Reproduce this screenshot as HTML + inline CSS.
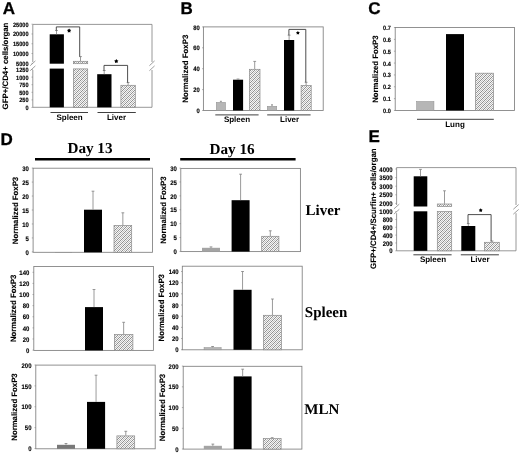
<!DOCTYPE html><html><head><meta charset="utf-8"><style>html,body{margin:0;padding:0;background:#fff;width:520px;height:453px;overflow:hidden}svg{display:block;will-change:transform}</style></head><body>
<svg width="520" height="453" viewBox="0 0 520 453" text-rendering="geometricPrecision">
<defs><pattern id="hatch" width="4" height="4" patternUnits="userSpaceOnUse"><rect width="4" height="4" fill="#f6f6f6"/><rect x="0" y="0" width="1" height="1" fill="#909090"/><rect x="0" y="2" width="1" height="1" fill="#bebebe"/><rect x="1" y="1" width="1" height="1" fill="#bebebe"/><rect x="1" y="3" width="1" height="1" fill="#909090"/><rect x="2" y="0" width="1" height="1" fill="#bebebe"/><rect x="2" y="2" width="1" height="1" fill="#909090"/><rect x="3" y="1" width="1" height="1" fill="#909090"/><rect x="3" y="3" width="1" height="1" fill="#bebebe"/></pattern></defs>
<rect width="520" height="453" fill="#fff"/>
<text transform="translate(8.85,13.6) scale(1,1.0)" font-size="17" font-family="'Liberation Sans', sans-serif" font-weight="bold" text-anchor="middle" stroke="#000" stroke-width="0.3">A</text>
<text transform="translate(186.6,13.6) scale(1,1.0)" font-size="17" font-family="'Liberation Sans', sans-serif" font-weight="bold" text-anchor="middle" stroke="#000" stroke-width="0.3">B</text>
<text transform="translate(374.3,13.6) scale(1,1.0)" font-size="17" font-family="'Liberation Sans', sans-serif" font-weight="bold" text-anchor="middle" stroke="#000" stroke-width="0.3">C</text>
<text transform="translate(6.7,144.8) scale(1,1.0)" font-size="17" font-family="'Liberation Sans', sans-serif" font-weight="bold" text-anchor="middle" stroke="#000" stroke-width="0.3">D</text>
<text transform="translate(374.1,142.4) scale(1,1.0)" font-size="17" font-family="'Liberation Sans', sans-serif" font-weight="bold" text-anchor="middle" stroke="#000" stroke-width="0.3">E</text>
<line x1="32.8" y1="24.4" x2="152" y2="24.4" stroke="#7e7e7e" stroke-width="0.8" />
<line x1="32.8" y1="107.3" x2="152" y2="107.3" stroke="#7e7e7e" stroke-width="0.8" />
<line x1="32.8" y1="24.4" x2="32.8" y2="62" stroke="#7e7e7e" stroke-width="0.8" />
<line x1="32.8" y1="70" x2="32.8" y2="107.3" stroke="#7e7e7e" stroke-width="0.8" />
<line x1="152" y1="24.4" x2="152" y2="62" stroke="#7e7e7e" stroke-width="0.8" />
<line x1="152" y1="70" x2="152" y2="107.3" stroke="#7e7e7e" stroke-width="0.8" />
<line x1="30.2" y1="65.7" x2="35.4" y2="60.9" stroke="#777" stroke-width="0.7" />
<line x1="30.2" y1="70.7" x2="35.4" y2="65.9" stroke="#777" stroke-width="0.7" />
<line x1="149.4" y1="65.7" x2="154.6" y2="60.9" stroke="#777" stroke-width="0.7" />
<line x1="149.4" y1="70.7" x2="154.6" y2="65.9" stroke="#777" stroke-width="0.7" />
<text transform="translate(28.5,24.5) scale(0.1,0.11)" y="20.05" font-size="56" font-family="'Liberation Sans', sans-serif" font-weight="bold" text-anchor="end" stroke="#000" stroke-width="1.3">25000</text>
<line x1="31.5" y1="24.2" x2="32.8" y2="24.2" stroke="#7e7e7e" stroke-width="0.6" />
<text transform="translate(28.5,34.27) scale(0.1,0.11)" y="20.05" font-size="56" font-family="'Liberation Sans', sans-serif" font-weight="bold" text-anchor="end" stroke="#000" stroke-width="1.3">20000</text>
<line x1="31.5" y1="33.97" x2="32.8" y2="33.97" stroke="#7e7e7e" stroke-width="0.6" />
<text transform="translate(28.5,44.05) scale(0.1,0.11)" y="20.05" font-size="56" font-family="'Liberation Sans', sans-serif" font-weight="bold" text-anchor="end" stroke="#000" stroke-width="1.3">15000</text>
<line x1="31.5" y1="43.75" x2="32.8" y2="43.75" stroke="#7e7e7e" stroke-width="0.6" />
<text transform="translate(28.5,53.82) scale(0.1,0.11)" y="20.05" font-size="56" font-family="'Liberation Sans', sans-serif" font-weight="bold" text-anchor="end" stroke="#000" stroke-width="1.3">10000</text>
<line x1="31.5" y1="53.52" x2="32.8" y2="53.52" stroke="#7e7e7e" stroke-width="0.6" />
<text transform="translate(28.5,63.6) scale(0.1,0.11)" y="20.05" font-size="56" font-family="'Liberation Sans', sans-serif" font-weight="bold" text-anchor="end" stroke="#000" stroke-width="1.3">5000</text>
<line x1="31.5" y1="63.3" x2="32.8" y2="63.3" stroke="#7e7e7e" stroke-width="0.6" />
<text transform="translate(28.5,69.8) scale(0.1,0.11)" y="20.05" font-size="56" font-family="'Liberation Sans', sans-serif" font-weight="bold" text-anchor="end" stroke="#000" stroke-width="1.3">1250</text>
<line x1="31.5" y1="69.5" x2="32.8" y2="69.5" stroke="#7e7e7e" stroke-width="0.6" />
<text transform="translate(28.5,77.4) scale(0.1,0.11)" y="20.05" font-size="56" font-family="'Liberation Sans', sans-serif" font-weight="bold" text-anchor="end" stroke="#000" stroke-width="1.3">1000</text>
<line x1="31.5" y1="77.1" x2="32.8" y2="77.1" stroke="#7e7e7e" stroke-width="0.6" />
<text transform="translate(28.5,85) scale(0.1,0.11)" y="20.05" font-size="56" font-family="'Liberation Sans', sans-serif" font-weight="bold" text-anchor="end" stroke="#000" stroke-width="1.3">750</text>
<line x1="31.5" y1="84.7" x2="32.8" y2="84.7" stroke="#7e7e7e" stroke-width="0.6" />
<text transform="translate(28.5,92.6) scale(0.1,0.11)" y="20.05" font-size="56" font-family="'Liberation Sans', sans-serif" font-weight="bold" text-anchor="end" stroke="#000" stroke-width="1.3">500</text>
<line x1="31.5" y1="92.3" x2="32.8" y2="92.3" stroke="#7e7e7e" stroke-width="0.6" />
<text transform="translate(28.5,100.2) scale(0.1,0.11)" y="20.05" font-size="56" font-family="'Liberation Sans', sans-serif" font-weight="bold" text-anchor="end" stroke="#000" stroke-width="1.3">250</text>
<line x1="31.5" y1="99.9" x2="32.8" y2="99.9" stroke="#7e7e7e" stroke-width="0.6" />
<text transform="translate(28.5,107.8) scale(0.1,0.11)" y="20.05" font-size="56" font-family="'Liberation Sans', sans-serif" font-weight="bold" text-anchor="end" stroke="#000" stroke-width="1.3">0</text>
<line x1="31.5" y1="107.5" x2="32.8" y2="107.5" stroke="#7e7e7e" stroke-width="0.6" />
<rect x="49.7" y="34.3" width="14.2" height="29.4" fill="#000" />
<rect x="49.7" y="68.6" width="14.2" height="38.7" fill="#000" />
<rect x="73.4" y="61.3" width="14.3" height="2.4" fill="url(#hatch)" stroke="#8a8a8a" stroke-width="0.7" />
<rect x="73.4" y="68.9" width="14.3" height="38.4" fill="url(#hatch)" stroke="#8a8a8a" stroke-width="0.7" />
<rect x="97.2" y="74.2" width="14.3" height="33.1" fill="#000" />
<rect x="120.9" y="85.3" width="14.4" height="22" fill="url(#hatch)" stroke="#8a8a8a" stroke-width="0.7" />
<line x1="56.5" y1="34.3" x2="56.5" y2="30.5" stroke="#808080" stroke-width="0.8" />
<line x1="55.1" y1="30.5" x2="57.9" y2="30.5" stroke="#808080" stroke-width="0.8" />
<line x1="80.5" y1="61" x2="80.5" y2="56.6" stroke="#808080" stroke-width="0.8" />
<line x1="79.1" y1="56.6" x2="81.9" y2="56.6" stroke="#808080" stroke-width="0.8" />
<line x1="104.2" y1="74.2" x2="104.2" y2="70.5" stroke="#808080" stroke-width="0.8" />
<line x1="102.8" y1="70.5" x2="105.6" y2="70.5" stroke="#808080" stroke-width="0.8" />
<line x1="128.1" y1="85" x2="128.1" y2="82.5" stroke="#808080" stroke-width="0.8" />
<line x1="126.7" y1="82.5" x2="129.5" y2="82.5" stroke="#808080" stroke-width="0.8" />
<line x1="56.3" y1="30.5" x2="56.3" y2="26.9" stroke="#3a3a3a" stroke-width="0.9" />
<line x1="56.3" y1="26.9" x2="79.7" y2="26.9" stroke="#3a3a3a" stroke-width="0.9" />
<line x1="79.7" y1="26.9" x2="79.7" y2="56.6" stroke="#3a3a3a" stroke-width="0.9" />
<line x1="104" y1="70.5" x2="104" y2="65.4" stroke="#3a3a3a" stroke-width="0.9" />
<line x1="104" y1="65.4" x2="127.6" y2="65.4" stroke="#3a3a3a" stroke-width="0.9" />
<line x1="127.6" y1="65.4" x2="127.6" y2="82.6" stroke="#3a3a3a" stroke-width="0.9" />
<polygon points="69.1,28.4 69.85,29.57 71.19,29.92 70.31,30.99 70.39,32.38 69.1,31.88 67.81,32.38 67.89,30.99 67.01,29.92 68.35,29.57" fill="#000"/>
<polygon points="116.3,59.1 117.05,60.27 118.39,60.62 117.51,61.69 117.59,63.08 116.3,62.58 115.01,63.08 115.09,61.69 114.21,60.62 115.55,60.27" fill="#000"/>
<text transform="translate(8.4,66) rotate(-90)" font-size="7.85" font-family="'Liberation Sans', sans-serif" font-weight="bold" text-anchor="middle" stroke="#000" stroke-width="0.12">GFP+/CD4+ cells/organ</text>
<line x1="50.5" y1="112.5" x2="88" y2="112.5" stroke="#404040" stroke-width="1.0" />
<line x1="97.5" y1="112.5" x2="135.8" y2="112.5" stroke="#404040" stroke-width="1.0" />
<text x="69.6" y="119.8" font-size="8.0" font-family="'Liberation Sans', sans-serif" font-weight="bold" text-anchor="middle" >Spleen</text>
<text x="116.5" y="119.8" font-size="8.0" font-family="'Liberation Sans', sans-serif" font-weight="bold" text-anchor="middle" >Liver</text>
<rect x="203.4" y="26.9" width="119.8" height="83.6" fill="none" stroke="#7e7e7e" stroke-width="0.85" />
<text transform="translate(199.8,27.2) scale(0.1,0.11)" y="20.94" font-size="58.5" font-family="'Liberation Sans', sans-serif" font-weight="bold" text-anchor="end" stroke="#000" stroke-width="1.3">80</text>
<line x1="202.1" y1="26.9" x2="203.4" y2="26.9" stroke="#7e7e7e" stroke-width="0.6" />
<text transform="translate(199.8,48.1) scale(0.1,0.11)" y="20.94" font-size="58.5" font-family="'Liberation Sans', sans-serif" font-weight="bold" text-anchor="end" stroke="#000" stroke-width="1.3">60</text>
<line x1="202.1" y1="47.8" x2="203.4" y2="47.8" stroke="#7e7e7e" stroke-width="0.6" />
<text transform="translate(199.8,69) scale(0.1,0.11)" y="20.94" font-size="58.5" font-family="'Liberation Sans', sans-serif" font-weight="bold" text-anchor="end" stroke="#000" stroke-width="1.3">40</text>
<line x1="202.1" y1="68.7" x2="203.4" y2="68.7" stroke="#7e7e7e" stroke-width="0.6" />
<text transform="translate(199.8,89.9) scale(0.1,0.11)" y="20.94" font-size="58.5" font-family="'Liberation Sans', sans-serif" font-weight="bold" text-anchor="end" stroke="#000" stroke-width="1.3">20</text>
<line x1="202.1" y1="89.6" x2="203.4" y2="89.6" stroke="#7e7e7e" stroke-width="0.6" />
<text transform="translate(199.8,110.8) scale(0.1,0.11)" y="20.94" font-size="58.5" font-family="'Liberation Sans', sans-serif" font-weight="bold" text-anchor="end" stroke="#000" stroke-width="1.3">0</text>
<line x1="202.1" y1="110.5" x2="203.4" y2="110.5" stroke="#7e7e7e" stroke-width="0.6" />
<rect x="216.25" y="102.35" width="9.3" height="8.15" fill="#b6b6b6" stroke="#8e8e8e" stroke-width="0.5" />
<line x1="220.9" y1="102.1" x2="220.9" y2="101.3" stroke="#808080" stroke-width="0.8" />
<line x1="219.9" y1="101.3" x2="221.9" y2="101.3" stroke="#808080" stroke-width="0.8" />
<rect x="233" y="79.7" width="10.1" height="30.8" fill="#000" />
<line x1="238" y1="79.7" x2="238" y2="79" stroke="#808080" stroke-width="0.8" />
<line x1="236.6" y1="79" x2="239.4" y2="79" stroke="#808080" stroke-width="0.8" />
<rect x="249.5" y="69.3" width="10.5" height="41.2" fill="url(#hatch)" stroke="#8a8a8a" stroke-width="0.7" />
<line x1="254.7" y1="69" x2="254.7" y2="61.4" stroke="#808080" stroke-width="0.8" />
<line x1="253.3" y1="61.4" x2="256.1" y2="61.4" stroke="#808080" stroke-width="0.8" />
<rect x="267.25" y="106.25" width="9.5" height="4.25" fill="#b6b6b6" stroke="#8e8e8e" stroke-width="0.5" />
<line x1="272" y1="106" x2="272" y2="104.8" stroke="#808080" stroke-width="0.8" />
<line x1="271" y1="104.8" x2="273" y2="104.8" stroke="#808080" stroke-width="0.8" />
<rect x="284" y="40" width="10.2" height="70.5" fill="#000" />
<line x1="289.1" y1="40" x2="289.1" y2="35.2" stroke="#808080" stroke-width="0.8" />
<line x1="287.7" y1="35.2" x2="290.5" y2="35.2" stroke="#808080" stroke-width="0.8" />
<rect x="301.1" y="85.5" width="10.1" height="25" fill="url(#hatch)" stroke="#8a8a8a" stroke-width="0.7" />
<line x1="306.1" y1="85.2" x2="306.1" y2="82.3" stroke="#808080" stroke-width="0.8" />
<line x1="304.7" y1="82.3" x2="307.5" y2="82.3" stroke="#808080" stroke-width="0.8" />
<line x1="288.9" y1="35.2" x2="288.9" y2="29.4" stroke="#3a3a3a" stroke-width="0.9" />
<line x1="288.9" y1="29.4" x2="305.8" y2="29.4" stroke="#3a3a3a" stroke-width="0.9" />
<line x1="305.8" y1="29.4" x2="305.8" y2="82.3" stroke="#3a3a3a" stroke-width="0.9" />
<polygon points="297.9,30.9 298.58,31.96 299.8,32.28 299,33.26 299.08,34.52 297.9,34.06 296.72,34.52 296.8,33.26 296,32.28 297.22,31.96" fill="#000"/>
<text transform="translate(188.3,68.75) rotate(-90)" font-size="7.85" font-family="'Liberation Sans', sans-serif" font-weight="bold" text-anchor="middle" stroke="#000" stroke-width="0.12">Normalized FoxP3</text>
<line x1="215.3" y1="114.9" x2="258.6" y2="114.9" stroke="#404040" stroke-width="1.0" />
<line x1="267.2" y1="114.9" x2="310.6" y2="114.9" stroke="#404040" stroke-width="1.0" />
<text x="237" y="121.8" font-size="8.0" font-family="'Liberation Sans', sans-serif" font-weight="bold" text-anchor="middle" >Spleen</text>
<text x="289.6" y="121.8" font-size="8.0" font-family="'Liberation Sans', sans-serif" font-weight="bold" text-anchor="middle" >Liver</text>
<rect x="395.2" y="27.5" width="119.3" height="83" fill="none" stroke="#7e7e7e" stroke-width="0.85" />
<text transform="translate(390.8,27.8) scale(0.1,0.11)" y="20.05" font-size="56" font-family="'Liberation Sans', sans-serif" font-weight="bold" text-anchor="end" stroke="#000" stroke-width="1.3">0.7</text>
<line x1="393.9" y1="27.5" x2="395.2" y2="27.5" stroke="#7e7e7e" stroke-width="0.6" />
<text transform="translate(390.8,39.66) scale(0.1,0.11)" y="20.05" font-size="56" font-family="'Liberation Sans', sans-serif" font-weight="bold" text-anchor="end" stroke="#000" stroke-width="1.3">0.6</text>
<line x1="393.9" y1="39.36" x2="395.2" y2="39.36" stroke="#7e7e7e" stroke-width="0.6" />
<text transform="translate(390.8,51.51) scale(0.1,0.11)" y="20.05" font-size="56" font-family="'Liberation Sans', sans-serif" font-weight="bold" text-anchor="end" stroke="#000" stroke-width="1.3">0.5</text>
<line x1="393.9" y1="51.21" x2="395.2" y2="51.21" stroke="#7e7e7e" stroke-width="0.6" />
<text transform="translate(390.8,63.37) scale(0.1,0.11)" y="20.05" font-size="56" font-family="'Liberation Sans', sans-serif" font-weight="bold" text-anchor="end" stroke="#000" stroke-width="1.3">0.4</text>
<line x1="393.9" y1="63.07" x2="395.2" y2="63.07" stroke="#7e7e7e" stroke-width="0.6" />
<text transform="translate(390.8,75.23) scale(0.1,0.11)" y="20.05" font-size="56" font-family="'Liberation Sans', sans-serif" font-weight="bold" text-anchor="end" stroke="#000" stroke-width="1.3">0.3</text>
<line x1="393.9" y1="74.93" x2="395.2" y2="74.93" stroke="#7e7e7e" stroke-width="0.6" />
<text transform="translate(390.8,87.09) scale(0.1,0.11)" y="20.05" font-size="56" font-family="'Liberation Sans', sans-serif" font-weight="bold" text-anchor="end" stroke="#000" stroke-width="1.3">0.2</text>
<line x1="393.9" y1="86.79" x2="395.2" y2="86.79" stroke="#7e7e7e" stroke-width="0.6" />
<text transform="translate(390.8,98.94) scale(0.1,0.11)" y="20.05" font-size="56" font-family="'Liberation Sans', sans-serif" font-weight="bold" text-anchor="end" stroke="#000" stroke-width="1.3">0.1</text>
<line x1="393.9" y1="98.64" x2="395.2" y2="98.64" stroke="#7e7e7e" stroke-width="0.6" />
<text transform="translate(390.8,110.8) scale(0.1,0.11)" y="20.05" font-size="56" font-family="'Liberation Sans', sans-serif" font-weight="bold" text-anchor="end" stroke="#000" stroke-width="1.3">0.0</text>
<line x1="393.9" y1="110.5" x2="395.2" y2="110.5" stroke="#7e7e7e" stroke-width="0.6" />
<rect x="416.55" y="101.45" width="17.4" height="9.05" fill="#b6b6b6" stroke="#8e8e8e" stroke-width="0.5" />
<rect x="446" y="34.1" width="18" height="76.4" fill="#000" />
<rect x="475.5" y="73.2" width="18" height="37.3" fill="url(#hatch)" stroke="#8a8a8a" stroke-width="0.7" />
<text transform="translate(378.2,69.1) rotate(-90)" font-size="7.78" font-family="'Liberation Sans', sans-serif" font-weight="bold" text-anchor="middle" stroke="#000" stroke-width="0.12">Normalized FoxP3</text>
<line x1="417" y1="119.3" x2="493.8" y2="119.3" stroke="#404040" stroke-width="1.0" />
<text x="455" y="126.8" font-size="8.0" font-family="'Liberation Sans', sans-serif" font-weight="bold" text-anchor="middle" >Lung</text>
<text x="90" y="153.1" font-size="15.2" font-family="'Liberation Serif', serif" font-weight="bold" text-anchor="middle" >Day 13</text>
<text x="232.1" y="153.5" font-size="15.2" font-family="'Liberation Serif', serif" font-weight="bold" text-anchor="middle" >Day 16</text>
<line x1="35" y1="159.2" x2="150" y2="159.2" stroke="#000" stroke-width="2.4" />
<line x1="180.2" y1="159.2" x2="295.6" y2="159.2" stroke="#000" stroke-width="2.4" />
<rect x="33.1" y="168.2" width="119.4" height="84.1" fill="none" stroke="#7e7e7e" stroke-width="0.85" />
<text transform="translate(28.9,168.4) scale(0.1,0.11)" y="21.48" font-size="60" font-family="'Liberation Sans', sans-serif" font-weight="bold" text-anchor="end" stroke="#000" stroke-width="1.3">30</text>
<line x1="31.8" y1="168.1" x2="33.1" y2="168.1" stroke="#7e7e7e" stroke-width="0.6" />
<text transform="translate(28.9,182.37) scale(0.1,0.11)" y="21.48" font-size="60" font-family="'Liberation Sans', sans-serif" font-weight="bold" text-anchor="end" stroke="#000" stroke-width="1.3">25</text>
<line x1="31.8" y1="182.07" x2="33.1" y2="182.07" stroke="#7e7e7e" stroke-width="0.6" />
<text transform="translate(28.9,196.33) scale(0.1,0.11)" y="21.48" font-size="60" font-family="'Liberation Sans', sans-serif" font-weight="bold" text-anchor="end" stroke="#000" stroke-width="1.3">20</text>
<line x1="31.8" y1="196.03" x2="33.1" y2="196.03" stroke="#7e7e7e" stroke-width="0.6" />
<text transform="translate(28.9,210.3) scale(0.1,0.11)" y="21.48" font-size="60" font-family="'Liberation Sans', sans-serif" font-weight="bold" text-anchor="end" stroke="#000" stroke-width="1.3">15</text>
<line x1="31.8" y1="210" x2="33.1" y2="210" stroke="#7e7e7e" stroke-width="0.6" />
<text transform="translate(28.9,224.27) scale(0.1,0.11)" y="21.48" font-size="60" font-family="'Liberation Sans', sans-serif" font-weight="bold" text-anchor="end" stroke="#000" stroke-width="1.3">10</text>
<line x1="31.8" y1="223.97" x2="33.1" y2="223.97" stroke="#7e7e7e" stroke-width="0.6" />
<text transform="translate(28.9,238.23) scale(0.1,0.11)" y="21.48" font-size="60" font-family="'Liberation Sans', sans-serif" font-weight="bold" text-anchor="end" stroke="#000" stroke-width="1.3">5</text>
<line x1="31.8" y1="237.93" x2="33.1" y2="237.93" stroke="#7e7e7e" stroke-width="0.6" />
<text transform="translate(28.9,252.2) scale(0.1,0.11)" y="21.48" font-size="60" font-family="'Liberation Sans', sans-serif" font-weight="bold" text-anchor="end" stroke="#000" stroke-width="1.3">0</text>
<line x1="31.8" y1="251.9" x2="33.1" y2="251.9" stroke="#7e7e7e" stroke-width="0.6" />
<rect x="55.25" y="252.25" width="16.5" height="0.05" fill="#b6b6b6" stroke="#8e8e8e" stroke-width="0.5" />
<rect x="84" y="209.7" width="18" height="42.6" fill="#000" />
<line x1="93" y1="209.7" x2="93" y2="191.2" stroke="#808080" stroke-width="0.8" />
<line x1="91.6" y1="191.2" x2="94.4" y2="191.2" stroke="#808080" stroke-width="0.8" />
<rect x="114" y="225.5" width="17.7" height="26.8" fill="url(#hatch)" stroke="#8a8a8a" stroke-width="0.7" />
<line x1="122.85" y1="225.2" x2="122.85" y2="212.8" stroke="#808080" stroke-width="0.8" />
<line x1="121.45" y1="212.8" x2="124.25" y2="212.8" stroke="#808080" stroke-width="0.8" />
<text transform="translate(18.1,210.5) rotate(-90)" font-size="7.78" font-family="'Liberation Sans', sans-serif" font-weight="bold" text-anchor="middle" stroke="#000" stroke-width="0.12">Normalized FoxP3</text>
<rect x="180.8" y="168.4" width="119.6" height="83.2" fill="none" stroke="#7e7e7e" stroke-width="0.85" />
<text transform="translate(176.8,168.4) scale(0.1,0.11)" y="21.48" font-size="60" font-family="'Liberation Sans', sans-serif" font-weight="bold" text-anchor="end" stroke="#000" stroke-width="1.3">30</text>
<line x1="179.5" y1="168.1" x2="180.8" y2="168.1" stroke="#7e7e7e" stroke-width="0.6" />
<text transform="translate(176.8,182.28) scale(0.1,0.11)" y="21.48" font-size="60" font-family="'Liberation Sans', sans-serif" font-weight="bold" text-anchor="end" stroke="#000" stroke-width="1.3">25</text>
<line x1="179.5" y1="181.98" x2="180.8" y2="181.98" stroke="#7e7e7e" stroke-width="0.6" />
<text transform="translate(176.8,196.17) scale(0.1,0.11)" y="21.48" font-size="60" font-family="'Liberation Sans', sans-serif" font-weight="bold" text-anchor="end" stroke="#000" stroke-width="1.3">20</text>
<line x1="179.5" y1="195.87" x2="180.8" y2="195.87" stroke="#7e7e7e" stroke-width="0.6" />
<text transform="translate(176.8,210.05) scale(0.1,0.11)" y="21.48" font-size="60" font-family="'Liberation Sans', sans-serif" font-weight="bold" text-anchor="end" stroke="#000" stroke-width="1.3">15</text>
<line x1="179.5" y1="209.75" x2="180.8" y2="209.75" stroke="#7e7e7e" stroke-width="0.6" />
<text transform="translate(176.8,223.93) scale(0.1,0.11)" y="21.48" font-size="60" font-family="'Liberation Sans', sans-serif" font-weight="bold" text-anchor="end" stroke="#000" stroke-width="1.3">10</text>
<line x1="179.5" y1="223.63" x2="180.8" y2="223.63" stroke="#7e7e7e" stroke-width="0.6" />
<text transform="translate(176.8,237.82) scale(0.1,0.11)" y="21.48" font-size="60" font-family="'Liberation Sans', sans-serif" font-weight="bold" text-anchor="end" stroke="#000" stroke-width="1.3">5</text>
<line x1="179.5" y1="237.52" x2="180.8" y2="237.52" stroke="#7e7e7e" stroke-width="0.6" />
<text transform="translate(176.8,251.7) scale(0.1,0.11)" y="21.48" font-size="60" font-family="'Liberation Sans', sans-serif" font-weight="bold" text-anchor="end" stroke="#000" stroke-width="1.3">0</text>
<line x1="179.5" y1="251.4" x2="180.8" y2="251.4" stroke="#7e7e7e" stroke-width="0.6" />
<rect x="202" y="247.8" width="18" height="3.8" fill="#a4a4a4" />
<line x1="211" y1="247.8" x2="211" y2="246.9" stroke="#808080" stroke-width="0.8" />
<line x1="209.6" y1="246.9" x2="212.4" y2="246.9" stroke="#808080" stroke-width="0.8" />
<rect x="231.6" y="200.2" width="18" height="51.4" fill="#000" />
<line x1="240.6" y1="200.2" x2="240.6" y2="174.2" stroke="#808080" stroke-width="0.8" />
<line x1="239.2" y1="174.2" x2="242" y2="174.2" stroke="#808080" stroke-width="0.8" />
<rect x="261.7" y="236.3" width="17.2" height="15.3" fill="url(#hatch)" stroke="#8a8a8a" stroke-width="0.7" />
<line x1="270.3" y1="236" x2="270.3" y2="230.8" stroke="#808080" stroke-width="0.8" />
<line x1="268.9" y1="230.8" x2="271.7" y2="230.8" stroke="#808080" stroke-width="0.8" />
<text transform="translate(165.8,210.1) rotate(-90)" font-size="7.78" font-family="'Liberation Sans', sans-serif" font-weight="bold" text-anchor="middle" stroke="#000" stroke-width="0.12">Normalized FoxP3</text>
<rect x="33.8" y="266.5" width="119.6" height="83.9" fill="none" stroke="#7e7e7e" stroke-width="0.85" />
<text transform="translate(29.3,272.6) scale(0.1,0.11)" y="21.48" font-size="60" font-family="'Liberation Sans', sans-serif" font-weight="bold" text-anchor="end" stroke="#000" stroke-width="1.3">140</text>
<line x1="32.5" y1="272.3" x2="33.8" y2="272.3" stroke="#7e7e7e" stroke-width="0.6" />
<text transform="translate(29.3,283.71) scale(0.1,0.11)" y="21.48" font-size="60" font-family="'Liberation Sans', sans-serif" font-weight="bold" text-anchor="end" stroke="#000" stroke-width="1.3">120</text>
<line x1="32.5" y1="283.41" x2="33.8" y2="283.41" stroke="#7e7e7e" stroke-width="0.6" />
<text transform="translate(29.3,294.83) scale(0.1,0.11)" y="21.48" font-size="60" font-family="'Liberation Sans', sans-serif" font-weight="bold" text-anchor="end" stroke="#000" stroke-width="1.3">100</text>
<line x1="32.5" y1="294.53" x2="33.8" y2="294.53" stroke="#7e7e7e" stroke-width="0.6" />
<text transform="translate(29.3,305.94) scale(0.1,0.11)" y="21.48" font-size="60" font-family="'Liberation Sans', sans-serif" font-weight="bold" text-anchor="end" stroke="#000" stroke-width="1.3">80</text>
<line x1="32.5" y1="305.64" x2="33.8" y2="305.64" stroke="#7e7e7e" stroke-width="0.6" />
<text transform="translate(29.3,317.06) scale(0.1,0.11)" y="21.48" font-size="60" font-family="'Liberation Sans', sans-serif" font-weight="bold" text-anchor="end" stroke="#000" stroke-width="1.3">60</text>
<line x1="32.5" y1="316.76" x2="33.8" y2="316.76" stroke="#7e7e7e" stroke-width="0.6" />
<text transform="translate(29.3,328.17) scale(0.1,0.11)" y="21.48" font-size="60" font-family="'Liberation Sans', sans-serif" font-weight="bold" text-anchor="end" stroke="#000" stroke-width="1.3">40</text>
<line x1="32.5" y1="327.87" x2="33.8" y2="327.87" stroke="#7e7e7e" stroke-width="0.6" />
<text transform="translate(29.3,339.29) scale(0.1,0.11)" y="21.48" font-size="60" font-family="'Liberation Sans', sans-serif" font-weight="bold" text-anchor="end" stroke="#000" stroke-width="1.3">20</text>
<line x1="32.5" y1="338.99" x2="33.8" y2="338.99" stroke="#7e7e7e" stroke-width="0.6" />
<text transform="translate(29.3,350.4) scale(0.1,0.11)" y="21.48" font-size="60" font-family="'Liberation Sans', sans-serif" font-weight="bold" text-anchor="end" stroke="#000" stroke-width="1.3">0</text>
<line x1="32.5" y1="350.1" x2="33.8" y2="350.1" stroke="#7e7e7e" stroke-width="0.6" />
<rect x="55.75" y="350.25" width="16.5" height="0.15" fill="#b6b6b6" stroke="#8e8e8e" stroke-width="0.5" />
<rect x="85" y="307.1" width="18" height="43.3" fill="#000" />
<line x1="94" y1="307.1" x2="94" y2="289.5" stroke="#808080" stroke-width="0.8" />
<line x1="92.6" y1="289.5" x2="95.4" y2="289.5" stroke="#808080" stroke-width="0.8" />
<rect x="114.4" y="334.5" width="18.5" height="15.9" fill="url(#hatch)" stroke="#8a8a8a" stroke-width="0.7" />
<line x1="123.65" y1="334.2" x2="123.65" y2="322.3" stroke="#808080" stroke-width="0.8" />
<line x1="122.25" y1="322.3" x2="125.05" y2="322.3" stroke="#808080" stroke-width="0.8" />
<text transform="translate(15.9,308.4) rotate(-90)" font-size="7.78" font-family="'Liberation Sans', sans-serif" font-weight="bold" text-anchor="middle" stroke="#000" stroke-width="0.12">Normalized FoxP3</text>
<rect x="182.3" y="266.2" width="119.9" height="83.6" fill="none" stroke="#7e7e7e" stroke-width="0.85" />
<text transform="translate(178.7,271.8) scale(0.1,0.11)" y="21.48" font-size="60" font-family="'Liberation Sans', sans-serif" font-weight="bold" text-anchor="end" stroke="#000" stroke-width="1.3">140</text>
<line x1="181" y1="271.5" x2="182.3" y2="271.5" stroke="#7e7e7e" stroke-width="0.6" />
<text transform="translate(178.7,282.97) scale(0.1,0.11)" y="21.48" font-size="60" font-family="'Liberation Sans', sans-serif" font-weight="bold" text-anchor="end" stroke="#000" stroke-width="1.3">120</text>
<line x1="181" y1="282.67" x2="182.3" y2="282.67" stroke="#7e7e7e" stroke-width="0.6" />
<text transform="translate(178.7,294.14) scale(0.1,0.11)" y="21.48" font-size="60" font-family="'Liberation Sans', sans-serif" font-weight="bold" text-anchor="end" stroke="#000" stroke-width="1.3">100</text>
<line x1="181" y1="293.84" x2="182.3" y2="293.84" stroke="#7e7e7e" stroke-width="0.6" />
<text transform="translate(178.7,305.31) scale(0.1,0.11)" y="21.48" font-size="60" font-family="'Liberation Sans', sans-serif" font-weight="bold" text-anchor="end" stroke="#000" stroke-width="1.3">80</text>
<line x1="181" y1="305.01" x2="182.3" y2="305.01" stroke="#7e7e7e" stroke-width="0.6" />
<text transform="translate(178.7,316.49) scale(0.1,0.11)" y="21.48" font-size="60" font-family="'Liberation Sans', sans-serif" font-weight="bold" text-anchor="end" stroke="#000" stroke-width="1.3">60</text>
<line x1="181" y1="316.19" x2="182.3" y2="316.19" stroke="#7e7e7e" stroke-width="0.6" />
<text transform="translate(178.7,327.66) scale(0.1,0.11)" y="21.48" font-size="60" font-family="'Liberation Sans', sans-serif" font-weight="bold" text-anchor="end" stroke="#000" stroke-width="1.3">40</text>
<line x1="181" y1="327.36" x2="182.3" y2="327.36" stroke="#7e7e7e" stroke-width="0.6" />
<text transform="translate(178.7,338.83) scale(0.1,0.11)" y="21.48" font-size="60" font-family="'Liberation Sans', sans-serif" font-weight="bold" text-anchor="end" stroke="#000" stroke-width="1.3">20</text>
<line x1="181" y1="338.53" x2="182.3" y2="338.53" stroke="#7e7e7e" stroke-width="0.6" />
<text transform="translate(178.7,350) scale(0.1,0.11)" y="21.48" font-size="60" font-family="'Liberation Sans', sans-serif" font-weight="bold" text-anchor="end" stroke="#000" stroke-width="1.3">0</text>
<line x1="181" y1="349.7" x2="182.3" y2="349.7" stroke="#7e7e7e" stroke-width="0.6" />
<rect x="204.05" y="347.55" width="17.1" height="2.25" fill="#b6b6b6" stroke="#8e8e8e" stroke-width="0.5" />
<line x1="212.6" y1="347.3" x2="212.6" y2="346.5" stroke="#808080" stroke-width="0.8" />
<line x1="211.2" y1="346.5" x2="214" y2="346.5" stroke="#808080" stroke-width="0.8" />
<rect x="233.5" y="289.8" width="18.1" height="60" fill="#000" />
<line x1="242.55" y1="289.8" x2="242.55" y2="271.5" stroke="#808080" stroke-width="0.8" />
<line x1="241.15" y1="271.5" x2="243.95" y2="271.5" stroke="#808080" stroke-width="0.8" />
<rect x="263.5" y="315.3" width="17.9" height="34.5" fill="url(#hatch)" stroke="#8a8a8a" stroke-width="0.7" />
<line x1="272.45" y1="315" x2="272.45" y2="299" stroke="#808080" stroke-width="0.8" />
<line x1="271.05" y1="299" x2="273.85" y2="299" stroke="#808080" stroke-width="0.8" />
<text transform="translate(164,307.75) rotate(-90)" font-size="7.78" font-family="'Liberation Sans', sans-serif" font-weight="bold" text-anchor="middle" stroke="#000" stroke-width="0.12">Normalized FoxP3</text>
<rect x="35.8" y="365.1" width="119.4" height="83.7" fill="none" stroke="#7e7e7e" stroke-width="0.85" />
<text transform="translate(31.5,365.3) scale(0.1,0.11)" y="21.48" font-size="60" font-family="'Liberation Sans', sans-serif" font-weight="bold" text-anchor="end" stroke="#000" stroke-width="1.3">200</text>
<line x1="34.5" y1="365" x2="35.8" y2="365" stroke="#7e7e7e" stroke-width="0.6" />
<text transform="translate(31.5,386.18) scale(0.1,0.11)" y="21.48" font-size="60" font-family="'Liberation Sans', sans-serif" font-weight="bold" text-anchor="end" stroke="#000" stroke-width="1.3">150</text>
<line x1="34.5" y1="385.88" x2="35.8" y2="385.88" stroke="#7e7e7e" stroke-width="0.6" />
<text transform="translate(31.5,407.05) scale(0.1,0.11)" y="21.48" font-size="60" font-family="'Liberation Sans', sans-serif" font-weight="bold" text-anchor="end" stroke="#000" stroke-width="1.3">100</text>
<line x1="34.5" y1="406.75" x2="35.8" y2="406.75" stroke="#7e7e7e" stroke-width="0.6" />
<text transform="translate(31.5,427.93) scale(0.1,0.11)" y="21.48" font-size="60" font-family="'Liberation Sans', sans-serif" font-weight="bold" text-anchor="end" stroke="#000" stroke-width="1.3">50</text>
<line x1="34.5" y1="427.62" x2="35.8" y2="427.62" stroke="#7e7e7e" stroke-width="0.6" />
<text transform="translate(31.5,448.8) scale(0.1,0.11)" y="21.48" font-size="60" font-family="'Liberation Sans', sans-serif" font-weight="bold" text-anchor="end" stroke="#000" stroke-width="1.3">0</text>
<line x1="34.5" y1="448.5" x2="35.8" y2="448.5" stroke="#7e7e7e" stroke-width="0.6" />
<rect x="57" y="444.8" width="18" height="4" fill="#787878" />
<line x1="66" y1="444.8" x2="66" y2="443.5" stroke="#808080" stroke-width="0.8" />
<line x1="64.6" y1="443.5" x2="67.4" y2="443.5" stroke="#808080" stroke-width="0.8" />
<rect x="87" y="401.9" width="18.1" height="46.9" fill="#000" />
<line x1="96.05" y1="401.9" x2="96.05" y2="375.2" stroke="#808080" stroke-width="0.8" />
<line x1="94.65" y1="375.2" x2="97.45" y2="375.2" stroke="#808080" stroke-width="0.8" />
<rect x="116.9" y="435.9" width="17.8" height="12.9" fill="url(#hatch)" stroke="#8a8a8a" stroke-width="0.7" />
<line x1="125.8" y1="435.6" x2="125.8" y2="431.3" stroke="#808080" stroke-width="0.8" />
<line x1="124.4" y1="431.3" x2="127.2" y2="431.3" stroke="#808080" stroke-width="0.8" />
<text transform="translate(16.8,407) rotate(-90)" font-size="7.78" font-family="'Liberation Sans', sans-serif" font-weight="bold" text-anchor="middle" stroke="#000" stroke-width="0.12">Normalized FoxP3</text>
<rect x="183.2" y="366.3" width="118.7" height="82.8" fill="none" stroke="#7e7e7e" stroke-width="0.85" />
<text transform="translate(178.6,366.4) scale(0.1,0.11)" y="21.48" font-size="60" font-family="'Liberation Sans', sans-serif" font-weight="bold" text-anchor="end" stroke="#000" stroke-width="1.3">200</text>
<line x1="181.9" y1="366.1" x2="183.2" y2="366.1" stroke="#7e7e7e" stroke-width="0.6" />
<text transform="translate(178.6,387.13) scale(0.1,0.11)" y="21.48" font-size="60" font-family="'Liberation Sans', sans-serif" font-weight="bold" text-anchor="end" stroke="#000" stroke-width="1.3">150</text>
<line x1="181.9" y1="386.83" x2="183.2" y2="386.83" stroke="#7e7e7e" stroke-width="0.6" />
<text transform="translate(178.6,407.85) scale(0.1,0.11)" y="21.48" font-size="60" font-family="'Liberation Sans', sans-serif" font-weight="bold" text-anchor="end" stroke="#000" stroke-width="1.3">100</text>
<line x1="181.9" y1="407.55" x2="183.2" y2="407.55" stroke="#7e7e7e" stroke-width="0.6" />
<text transform="translate(178.6,428.57) scale(0.1,0.11)" y="21.48" font-size="60" font-family="'Liberation Sans', sans-serif" font-weight="bold" text-anchor="end" stroke="#000" stroke-width="1.3">50</text>
<line x1="181.9" y1="428.27" x2="183.2" y2="428.27" stroke="#7e7e7e" stroke-width="0.6" />
<text transform="translate(178.6,449.3) scale(0.1,0.11)" y="21.48" font-size="60" font-family="'Liberation Sans', sans-serif" font-weight="bold" text-anchor="end" stroke="#000" stroke-width="1.3">0</text>
<line x1="181.9" y1="449" x2="183.2" y2="449" stroke="#7e7e7e" stroke-width="0.6" />
<rect x="203.8" y="445.8" width="18.1" height="3.3" fill="#a4a4a4" />
<line x1="212.85" y1="445.8" x2="212.85" y2="444.1" stroke="#808080" stroke-width="0.8" />
<line x1="211.45" y1="444.1" x2="214.25" y2="444.1" stroke="#808080" stroke-width="0.8" />
<rect x="233.7" y="376.4" width="17.9" height="72.7" fill="#000" />
<line x1="242.65" y1="376.4" x2="242.65" y2="369.2" stroke="#808080" stroke-width="0.8" />
<line x1="241.25" y1="369.2" x2="244.05" y2="369.2" stroke="#808080" stroke-width="0.8" />
<rect x="263.3" y="438.6" width="17.8" height="10.5" fill="url(#hatch)" stroke="#8a8a8a" stroke-width="0.7" />
<line x1="272.2" y1="438.3" x2="272.2" y2="437.7" stroke="#808080" stroke-width="0.8" />
<line x1="270.8" y1="437.7" x2="273.6" y2="437.7" stroke="#808080" stroke-width="0.8" />
<text transform="translate(165.1,407.5) rotate(-90)" font-size="7.78" font-family="'Liberation Sans', sans-serif" font-weight="bold" text-anchor="middle" stroke="#000" stroke-width="0.12">Normalized FoxP3</text>
<text x="305.5" y="214.9" font-size="15" font-family="'Liberation Serif', serif" font-weight="bold" text-anchor="start" >Liver</text>
<text x="304.8" y="317.3" font-size="15" font-family="'Liberation Serif', serif" font-weight="bold" text-anchor="start" >Spleen</text>
<text x="304.3" y="414.2" font-size="15" font-family="'Liberation Serif', serif" font-weight="bold" text-anchor="start" >MLN</text>
<line x1="396.6" y1="167.6" x2="516" y2="167.6" stroke="#7e7e7e" stroke-width="0.8" />
<line x1="396.6" y1="250.8" x2="516" y2="250.8" stroke="#7e7e7e" stroke-width="0.8" />
<line x1="396.6" y1="167.6" x2="396.6" y2="205" stroke="#7e7e7e" stroke-width="0.8" />
<line x1="396.6" y1="213.2" x2="396.6" y2="250.8" stroke="#7e7e7e" stroke-width="0.8" />
<line x1="516" y1="167.6" x2="516" y2="205" stroke="#7e7e7e" stroke-width="0.8" />
<line x1="516" y1="213.2" x2="516" y2="250.8" stroke="#7e7e7e" stroke-width="0.8" />
<line x1="393.9" y1="208.9" x2="399.3" y2="204.1" stroke="#777" stroke-width="0.7" />
<line x1="393.9" y1="214.1" x2="399.3" y2="209.3" stroke="#777" stroke-width="0.7" />
<line x1="513.3" y1="209.3" x2="518.7" y2="204.5" stroke="#777" stroke-width="0.7" />
<line x1="513.3" y1="214.2" x2="518.7" y2="209.4" stroke="#777" stroke-width="0.7" />
<text transform="translate(392.7,169.3) scale(0.1,0.11)" y="21.48" font-size="60" font-family="'Liberation Sans', sans-serif" font-weight="bold" text-anchor="end" stroke="#000" stroke-width="1.3">4000</text>
<line x1="395.3" y1="169" x2="396.6" y2="169" stroke="#7e7e7e" stroke-width="0.6" />
<text transform="translate(392.7,177.9) scale(0.1,0.11)" y="21.48" font-size="60" font-family="'Liberation Sans', sans-serif" font-weight="bold" text-anchor="end" stroke="#000" stroke-width="1.3">3500</text>
<line x1="395.3" y1="177.6" x2="396.6" y2="177.6" stroke="#7e7e7e" stroke-width="0.6" />
<text transform="translate(392.7,186.5) scale(0.1,0.11)" y="21.48" font-size="60" font-family="'Liberation Sans', sans-serif" font-weight="bold" text-anchor="end" stroke="#000" stroke-width="1.3">3000</text>
<line x1="395.3" y1="186.2" x2="396.6" y2="186.2" stroke="#7e7e7e" stroke-width="0.6" />
<text transform="translate(392.7,195.1) scale(0.1,0.11)" y="21.48" font-size="60" font-family="'Liberation Sans', sans-serif" font-weight="bold" text-anchor="end" stroke="#000" stroke-width="1.3">2500</text>
<line x1="395.3" y1="194.8" x2="396.6" y2="194.8" stroke="#7e7e7e" stroke-width="0.6" />
<text transform="translate(392.7,203.7) scale(0.1,0.11)" y="21.48" font-size="60" font-family="'Liberation Sans', sans-serif" font-weight="bold" text-anchor="end" stroke="#000" stroke-width="1.3">2000</text>
<line x1="395.3" y1="203.4" x2="396.6" y2="203.4" stroke="#7e7e7e" stroke-width="0.6" />
<text transform="translate(392.7,211.9) scale(0.1,0.11)" y="21.48" font-size="60" font-family="'Liberation Sans', sans-serif" font-weight="bold" text-anchor="end" stroke="#000" stroke-width="1.3">1000</text>
<line x1="395.3" y1="211.6" x2="396.6" y2="211.6" stroke="#7e7e7e" stroke-width="0.6" />
<text transform="translate(392.7,219.74) scale(0.1,0.11)" y="21.48" font-size="60" font-family="'Liberation Sans', sans-serif" font-weight="bold" text-anchor="end" stroke="#000" stroke-width="1.3">800</text>
<line x1="395.3" y1="219.44" x2="396.6" y2="219.44" stroke="#7e7e7e" stroke-width="0.6" />
<text transform="translate(392.7,227.58) scale(0.1,0.11)" y="21.48" font-size="60" font-family="'Liberation Sans', sans-serif" font-weight="bold" text-anchor="end" stroke="#000" stroke-width="1.3">600</text>
<line x1="395.3" y1="227.28" x2="396.6" y2="227.28" stroke="#7e7e7e" stroke-width="0.6" />
<text transform="translate(392.7,235.42) scale(0.1,0.11)" y="21.48" font-size="60" font-family="'Liberation Sans', sans-serif" font-weight="bold" text-anchor="end" stroke="#000" stroke-width="1.3">400</text>
<line x1="395.3" y1="235.12" x2="396.6" y2="235.12" stroke="#7e7e7e" stroke-width="0.6" />
<text transform="translate(392.7,243.26) scale(0.1,0.11)" y="21.48" font-size="60" font-family="'Liberation Sans', sans-serif" font-weight="bold" text-anchor="end" stroke="#000" stroke-width="1.3">200</text>
<line x1="395.3" y1="242.96" x2="396.6" y2="242.96" stroke="#7e7e7e" stroke-width="0.6" />
<text transform="translate(392.7,251.1) scale(0.1,0.11)" y="21.48" font-size="60" font-family="'Liberation Sans', sans-serif" font-weight="bold" text-anchor="end" stroke="#000" stroke-width="1.3">0</text>
<line x1="395.3" y1="250.8" x2="396.6" y2="250.8" stroke="#7e7e7e" stroke-width="0.6" />
<rect x="413.7" y="176.3" width="13.6" height="30.2" fill="#000" />
<rect x="413.7" y="211.3" width="13.6" height="39.5" fill="#000" />
<rect x="437.3" y="204" width="14.4" height="2.5" fill="url(#hatch)" stroke="#8a8a8a" stroke-width="0.7" />
<rect x="437.3" y="211.6" width="14.4" height="39.2" fill="url(#hatch)" stroke="#8a8a8a" stroke-width="0.7" />
<rect x="461.3" y="226" width="14" height="24.8" fill="#000" />
<rect x="484.6" y="242.3" width="14.7" height="8.5" fill="url(#hatch)" stroke="#8a8a8a" stroke-width="0.7" />
<line x1="420.5" y1="176.3" x2="420.5" y2="169.4" stroke="#808080" stroke-width="0.8" />
<line x1="419.1" y1="169.4" x2="421.9" y2="169.4" stroke="#808080" stroke-width="0.8" />
<line x1="444.5" y1="203.7" x2="444.5" y2="190.8" stroke="#808080" stroke-width="0.8" />
<line x1="443.1" y1="190.8" x2="445.9" y2="190.8" stroke="#808080" stroke-width="0.8" />
<line x1="468.3" y1="226" x2="468.3" y2="223.6" stroke="#808080" stroke-width="0.8" />
<line x1="466.9" y1="223.6" x2="469.7" y2="223.6" stroke="#808080" stroke-width="0.8" />
<line x1="492" y1="242" x2="492" y2="241" stroke="#808080" stroke-width="0.8" />
<line x1="490.6" y1="241" x2="493.4" y2="241" stroke="#808080" stroke-width="0.8" />
<line x1="468" y1="223.6" x2="468" y2="214.6" stroke="#3a3a3a" stroke-width="0.9" />
<line x1="468" y1="214.6" x2="491.1" y2="214.6" stroke="#3a3a3a" stroke-width="0.9" />
<line x1="491.1" y1="214.6" x2="491.1" y2="241.3" stroke="#3a3a3a" stroke-width="0.9" />
<polygon points="480.7,208.3 481.38,209.36 482.6,209.68 481.8,210.66 481.88,211.92 480.7,211.46 479.52,211.92 479.6,210.66 478.8,209.68 480.02,209.36" fill="#000"/>
<text transform="translate(375.8,208.65) rotate(-90)" font-size="7.85" font-family="'Liberation Sans', sans-serif" font-weight="bold" text-anchor="middle" stroke="#000" stroke-width="0.12">GFP+/CD4+/Scurfin+ cells/organ</text>
<line x1="413.4" y1="254.8" x2="451.6" y2="254.8" stroke="#404040" stroke-width="1.0" />
<line x1="460.8" y1="254.8" x2="498.9" y2="254.8" stroke="#404040" stroke-width="1.0" />
<text x="433" y="261.9" font-size="8.0" font-family="'Liberation Sans', sans-serif" font-weight="bold" text-anchor="middle" >Spleen</text>
<text x="480" y="261.9" font-size="8.0" font-family="'Liberation Sans', sans-serif" font-weight="bold" text-anchor="middle" >Liver</text>
</svg></body></html>
